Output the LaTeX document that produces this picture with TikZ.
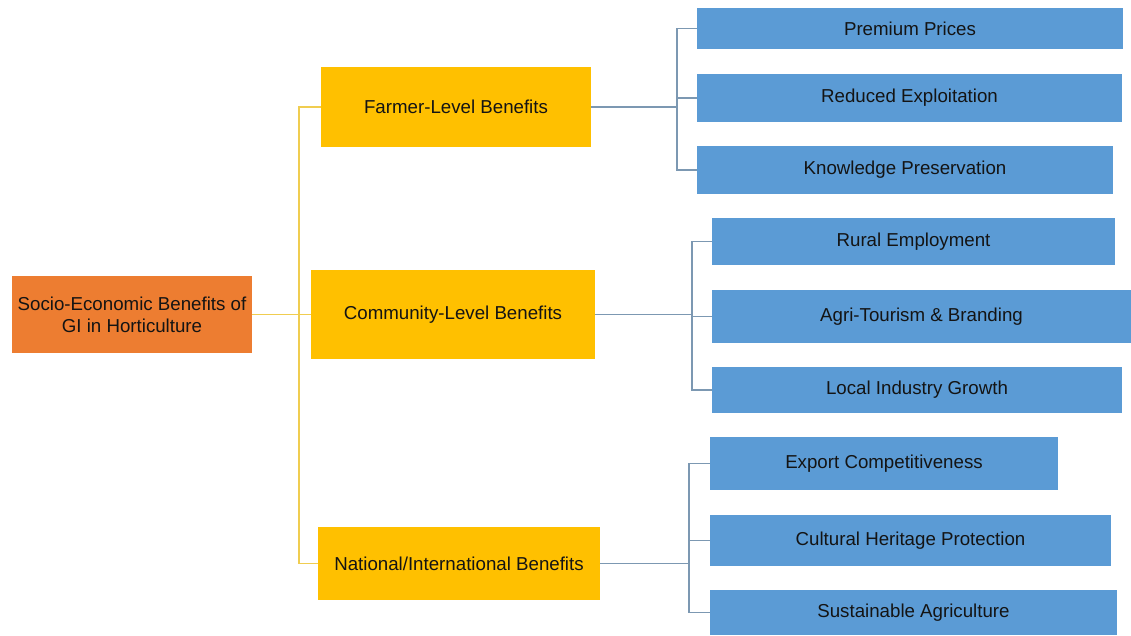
\documentclass[tikz,border=0pt]{standalone}
\usepackage{fontspec}
\setmainfont{Liberation Sans}
\begin{document}
\begin{tikzpicture}[x=1pt,y=-1pt,
  txt/.style={text=black!92, font=\fontsize{18.7}{22}\selectfont, align=center, inner sep=0pt},
  rootbox/.style={txt, fill={rgb,255:red,237;green,125;blue,49}},
  levelbox/.style={txt, fill={rgb,255:red,255;green,192;blue,0}},
  itembox/.style={txt, fill={rgb,255:red,91;green,155;blue,213}},
  yline/.style={draw={rgb,255:red,240;green,205;blue,80}, line width=1.5pt},
  bline/.style={draw={rgb,255:red,124;green,152;blue,178}, line width=1.4pt}]
\useasboundingbox[fill=white] (0,0) rectangle (1131,635);

% root
\node[rootbox, minimum width=240pt, minimum height=77pt] (root) at (132,314.5)
  {Socio-Economic Benefits of\\GI in Horticulture};

% level boxes
\node[levelbox, minimum width=270pt, minimum height=80pt] (farmer) at (456,107) {Farmer-Level Benefits};
\node[levelbox, minimum width=284pt, minimum height=89pt] (community) at (453,314.5) {Community-Level Benefits};
\node[levelbox, minimum width=282pt, minimum height=73pt] (national) at (459,563.5) {National/International Benefits};

% farmer items
\node[itembox, minimum width=426pt, minimum height=41pt] (p1) at (910,28.5) {Premium Prices};
\node[itembox, minimum width=425pt, minimum height=48pt] (p2) at (909.5,98) {Reduced Exploitation};
\node[itembox, minimum width=416pt, minimum height=48pt] (p3) at (905,170) {Knowledge Preservation};

% community items
\node[itembox, minimum width=403pt, minimum height=47pt] (c1) at (913.5,241.5) {Rural Employment};
\node[itembox, minimum width=419pt, minimum height=53pt] (c2) at (921.5,316.5) {Agri-Tourism \& Branding};
\node[itembox, minimum width=410pt, minimum height=46pt] (c3) at (917,390) {Local Industry Growth};

% national items
\node[itembox, minimum width=348pt, minimum height=53pt] (n1) at (884,463.5) {Export Competitiveness};
\node[itembox, minimum width=401pt, minimum height=51pt] (n2) at (910.5,540.5) {Cultural Heritage Protection};
\node[itembox, minimum width=407pt, minimum height=45pt] (n3) at (913.5,612.5) {Sustainable Agriculture};

% trunk positions
\coordinate (tk) at (299,0);
\coordinate (tf) at (677,0);
\coordinate (tc) at (692,0);
\coordinate (tn) at (689,0);

% root to level boxes
\draw[yline] (farmer.west) -- (farmer.west -| tk) -- (national.west -| tk) -- (national.west);
\draw[yline] (root.east) -- (community.west);

% farmer branches
\draw[bline] (farmer.east) -- (farmer.east -| tf);
\draw[bline] (p1.west) -- (p1.west -| tf) -- (p3.west -| tf) -- (p3.west);
\draw[bline] (p2.west -| tf) -- (p2.west);

% community branches
\draw[bline] (community.east) -- (community.east -| tc);
\draw[bline] (c1.west) -- (c1.west -| tc) -- (c3.west -| tc) -- (c3.west);
\draw[bline] (c2.west -| tc) -- (c2.west);

% national branches
\draw[bline] (national.east) -- (national.east -| tn);
\draw[bline] (n1.west) -- (n1.west -| tn) -- (n3.west -| tn) -- (n3.west);
\draw[bline] (n2.west -| tn) -- (n2.west);
\end{tikzpicture}
\end{document}
